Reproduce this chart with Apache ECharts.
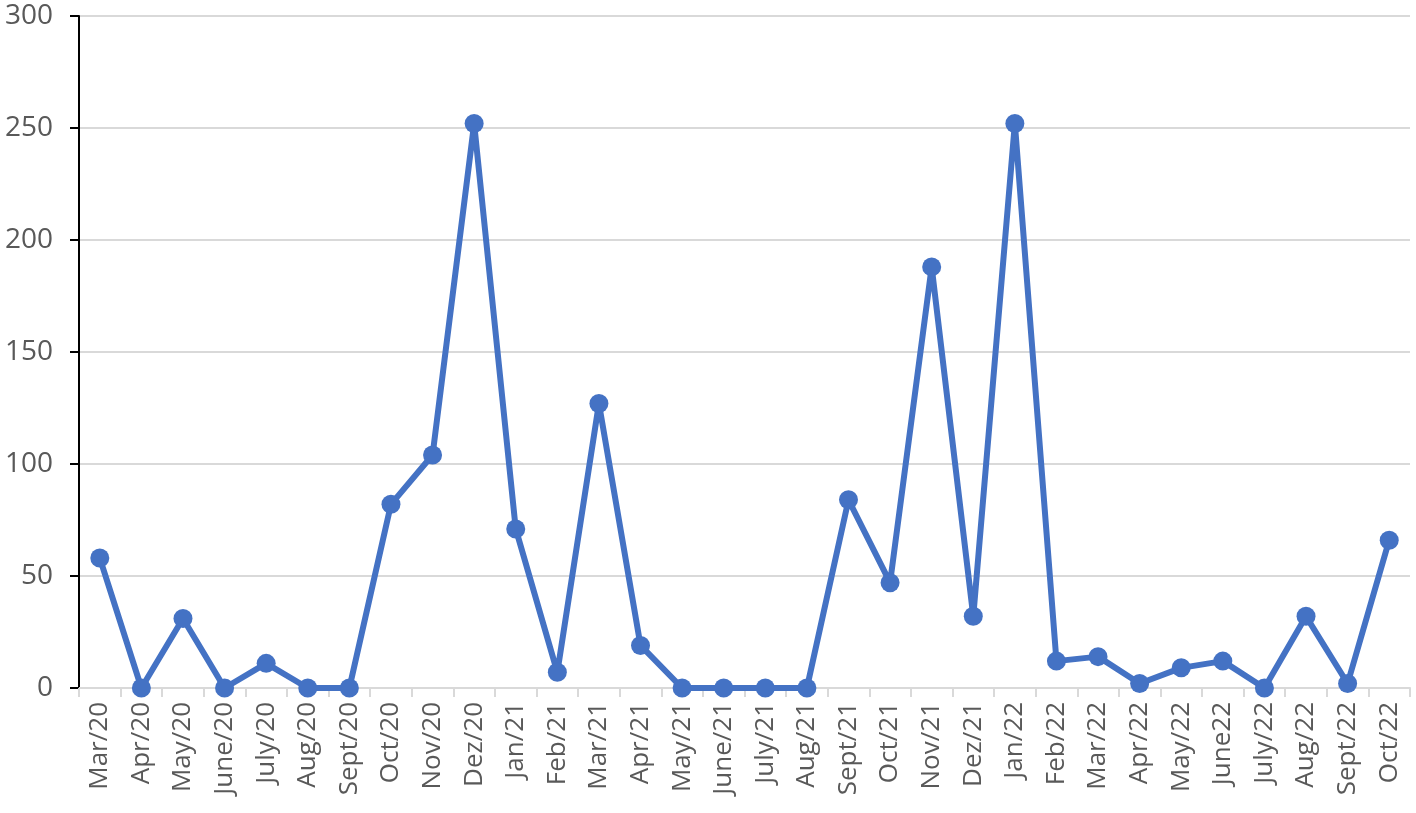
<!DOCTYPE html>
<html>
<head>
<meta charset="utf-8">
<script src="https://cdn.jsdelivr.net/npm/echarts@6/dist/echarts.min.js"></script>
<style>html,body{margin:0;padding:0;background:#fff;}#c{width:1416px;height:813px;}</style>
</head>
<body>
<div id="c"></div>
<script>
var categories = ["Mar/20","Apr/20","May/20","June/20","July/20","Aug/20","Sept/20","Oct/20","Nov/20","Dez/20","Jan/21","Feb/21","Mar/21","Apr/21","May/21","June/21","July/21","Aug/21","Sept/21","Oct/21","Nov/21","Dez/21","Jan/22","Feb/22","Mar/22","Apr/22","May/22","June22","July/22","Aug/22","Sept/22","Oct/22"];
var values = [58,0,31,0,11,0,0,82,104,252,71,7,127,19,0,0,0,0,84,47,188,32,252,12,14,2,9,12,0,32,2,66];
var yTicks = {min:0, max:300, interval:50};

var chart = echarts.init(document.getElementById('c'));
chart.setOption({
  animation:false,
  backgroundColor:'#fff',
  grid:{left:79, right:6, top:16, bottom:125, containLabel:false},
  xAxis:{
    type:'category', data:categories, boundaryGap:true,
    axisLine:{show:true, lineStyle:{color:'#d9d9d9', width:2}},
    axisTick:{show:true, inside:false, length:9, alignWithLabel:false, lineStyle:{color:'#d9d9d9', width:2}},
    axisLabel:{rotate:90, interval:0, fontSize:26, color:'#595959', fontFamily:'Open Sans, Noto Sans, sans-serif', margin:14},
    splitLine:{show:false}
  },
  yAxis:{
    type:'value', min:yTicks.min, max:yTicks.max, interval:yTicks.interval,
    axisLine:{show:true, lineStyle:{color:'#000', width:2}},
    axisTick:{show:true, length:9, lineStyle:{color:'#000', width:2}},
    axisLabel:{fontSize:28, color:'#595959', fontFamily:'Open Sans, Noto Sans, sans-serif', margin:26},
    splitLine:{show:true, lineStyle:{color:'#d9d9d9', width:2}}
  },
  series:[{
    type:'line', data:values,
    lineStyle:{color:'#4472C4', width:6},
    itemStyle:{color:'#4472C4'},
    symbol:'circle', symbolSize:19, showAllSymbol:true,
    z:3
  }]
});
</script>
</body>
</html>
